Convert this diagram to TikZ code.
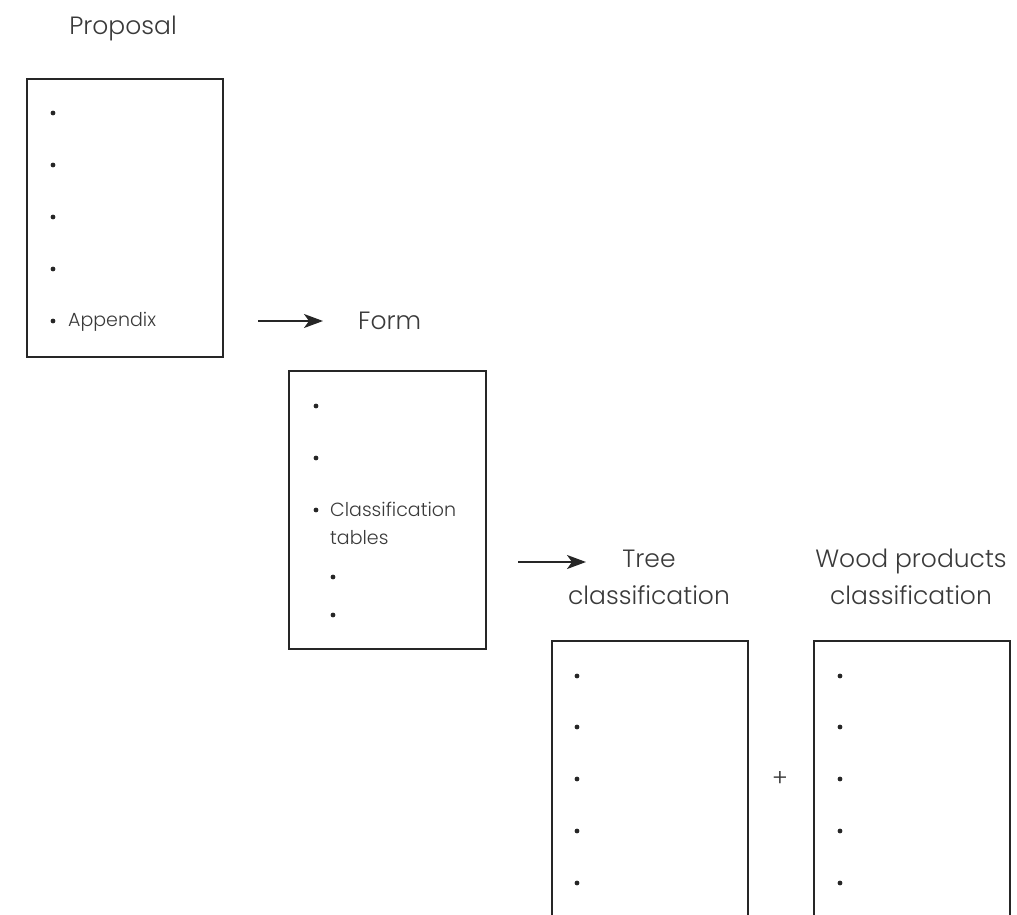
\documentclass[tikz,border=0pt]{standalone}
\usepackage{fontspec}
\setmainfont{Poppins}[UprightFont=* Light]
\usetikzlibrary{arrows.meta}
\definecolor{ink}{HTML}{262626}
\definecolor{txt}{HTML}{3A3A3A}
\tikzset{
  docbox/.style={draw=ink, line width=1.8pt, anchor=north west, inner sep=0pt},
  heading/.style={text=txt, font=\fontsize{25}{37}\selectfont, align=center, inner sep=0pt},
  item/.style={text=txt, font=\fontsize{19}{28}\selectfont, align=left, inner sep=0pt, anchor=west},
  flow/.style={ink, line width=1.8pt, -{Stealth[length=19pt,width=14pt,inset=5pt]}},
  dotmark/.style={fill=ink}
}
\begin{document}
\begin{tikzpicture}[x=1pt,y=-1pt]
\useasboundingbox (0,0) rectangle (1017,915);
\clip (0,0) rectangle (1017,915);

% Proposal document
\node[heading] (tprop) at (123,28) {Proposal};
\node[docbox, minimum width=196pt, minimum height=278pt] (prop) at (26,78) {};
\foreach \y in {113,165,217,269,321} \fill[dotmark] (53,\y) circle (2.4pt);
\node[item] (appx) at (68,322) {Appendix};

% Arrow to the form
\coordinate (a1s) at (258,321);
\coordinate (a1e) at (323,321);
\draw[flow] (a1s) -- (a1e);
\node[heading, anchor=west] (tform) at (358,321) {Form};

% Form document
\node[docbox, minimum width=197pt, minimum height=278pt] (form) at (288,370) {};
\foreach \y in {406,458,510} \fill[dotmark] (316,\y) circle (2.4pt);
\foreach \y in {577,615} \fill[dotmark] (333,\y) circle (2.4pt);
\node[item, anchor=north west] (ctab) at (330,502) {Classification\\tables};

% Arrow to the classifications
\coordinate (a2s) at (518,562);
\coordinate (a2e) at (586,562);
\draw[flow] (a2s) -- (a2e);
\node[heading] (ttree) at (649,577) {Tree\\classification};
\node[heading] (twood) at (911,577) {Wood products\\classification};

% Tree classification document (continues below)
\node[docbox, minimum width=196pt, minimum height=320pt] (tree) at (551,640) {};
\foreach \y in {676,727,779,831,883} \fill[dotmark] (577,\y) circle (2.4pt);

\node[text=txt, font=\fontsize{24}{28}\selectfont, inner sep=0pt] (plus) at (780,779) {+};

% Wood products classification document (continues below)
\node[docbox, minimum width=196pt, minimum height=320pt] (wood) at (813,640) {};
\foreach \y in {676,727,779,831,883} \fill[dotmark] (840,\y) circle (2.4pt);
\end{tikzpicture}
\end{document}
